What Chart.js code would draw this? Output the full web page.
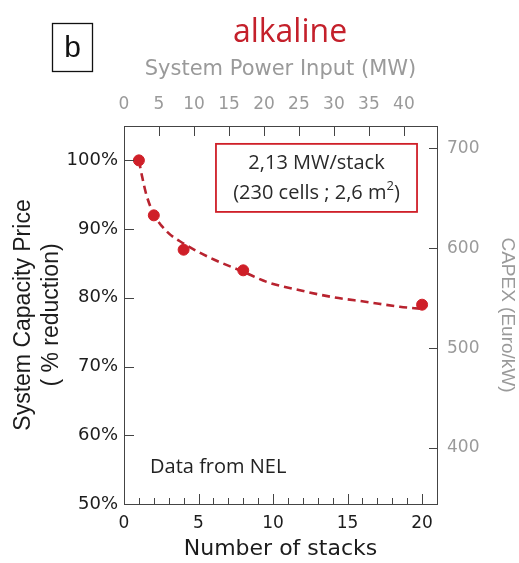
<!DOCTYPE html>
<html>
<head>
<meta charset="utf-8">
<script src="https://cdn.jsdelivr.net/npm/chart.js@4/dist/chart.umd.min.js"></script>
<style>
  html, body { margin: 0; padding: 0; background: #ffffff; }
  #wrap { width: 519px; height: 563px; }
</style>
</head>
<body>
<div id="wrap"><canvas id="chart" width="519" height="563"></canvas></div>
<script>
// Measured system prices vs. number of stacks (alkaline, NEL data)
const stacks = [1, 2, 4, 8, 20];
const priceReduction = [100, 92, 87, 84, 79];

// Dashed trend line traced through the measurements
const trendStacks = [1, 1.2, 1.5, 2, 2.9, 4, 5.8, 8, 9.6, 11.8, 14, 16.3, 18.5, 20];
const trendPrice = [100, 97.8, 95, 92.2, 89.6, 87.9, 85.8, 83.8, 82.3, 81.1, 80.1, 79.4, 78.7, 78.4];

// Axis ranges and tick labels
const stackRange = [0, 21];
const priceRange = [50, 105];
const stackTicks = [0, 5, 10, 15, 20];
const powerTicks = [0, 5, 10, 15, 20, 25, 30, 35, 40];
const priceTicks = [50, 60, 70, 80, 90, 100];
const capexTicks = [400, 500, 600, 700];
const MW_PER_STACK = 2.13;      // top axis: system power = stacks x 2.13 MW
const CAPEX_AT_FULL_PRICE = 688; // right axis: 100 % corresponds to 688 Euro/kW

const RED = '#cf1f28';
const LINE_RED = '#b8232f';
const AXIS = '#444444';
const GREY = '#9a9a9a';
const INK = '#1c1c1c';
const SANS = "'DejaVu Sans', sans-serif";
const ARIAL = "'Liberation Sans', Arial, sans-serif";
const CAL = "'Open Sans', sans-serif";

const fixTicks = values => scale => { scale.ticks = values.map(v => ({ value: v })); };

// Inward-pointing tick marks on all four sides, minor ticks along the bottom
const inwardTicks = {
  id: 'inwardTicks',
  afterDraw(chart) {
    const { ctx, chartArea: a, scales } = chart;
    ctx.save();
    ctx.strokeStyle = AXIS;
    ctx.lineWidth = 1;
    const vline = (x, y0, y1) => { const px = Math.round(x) + 0.5; ctx.beginPath(); ctx.moveTo(px, y0); ctx.lineTo(px, y1); ctx.stroke(); };
    const hline = (y, x0, x1) => { const py = Math.round(y) + 0.5; ctx.beginPath(); ctx.moveTo(x0, py); ctx.lineTo(x1, py); ctx.stroke(); };
    for (let s = 1; s <= 20; s++) {
      const major = stackTicks.includes(s);
      vline(scales.x.getPixelForValue(s), a.bottom, a.bottom - (major ? 10 : 6));
    }
    powerTicks.forEach(v => { if (v > 0) vline(scales.x2.getPixelForValue(v), a.top, a.top + 10); });
    priceTicks.forEach(v => { if (v > priceRange[0]) hline(scales.y.getPixelForValue(v), a.left, a.left + 10); });
    capexTicks.forEach(v => hline(scales.y2.getPixelForValue(v), a.right, a.right - 8));
    ctx.restore();
  }
};

// Panel letter, heading and the two text notes
const notes = {
  id: 'notes',
  afterDraw(chart) {
    const { ctx, scales } = chart;
    ctx.save();
    // panel letter
    ctx.strokeStyle = '#111';
    ctx.lineWidth = 1.3;
    ctx.strokeRect(52.5, 23.5, 40, 48);
    ctx.fillStyle = '#111';
    ctx.font = "30px " + ARIAL;
    ctx.textAlign = 'center';
    ctx.textBaseline = 'alphabetic';
    ctx.fillText('b', 72.5, 57);
    // heading
    ctx.fillStyle = '#c4202b';
    ctx.font = "32px " + CAL;
    ctx.fillText('alkaline', 290, 42);

    // stack specification box (placed in data coordinates)
    const bx0 = scales.x.getPixelForValue(6.17), bx1 = scales.x.getPixelForValue(19.66);
    const by0 = scales.y.getPixelForValue(102.4), by1 = scales.y.getPixelForValue(92.5);
    ctx.strokeStyle = RED;
    ctx.lineWidth = 1.8;
    ctx.strokeRect(bx0, by0, bx1 - bx0, by1 - by0);
    const cx = (bx0 + bx1) / 2;
    ctx.fillStyle = '#2a2a2a';
    ctx.font = "20px " + CAL;
    ctx.textBaseline = 'middle';
    ctx.textAlign = 'center';
    ctx.fillText('2,13 MW/stack', cx, by0 + 19);
    // second line with superscript
    const partA = '(230 cells ; 2,6 m', sup = '2', partB = ')';
    ctx.font = "20px " + CAL;
    const wA = ctx.measureText(partA).width, wB = ctx.measureText(partB).width;
    ctx.font = "13px " + CAL;
    const wS = ctx.measureText(sup).width;
    let x = cx - (wA + wS + wB) / 2;
    const y2 = by0 + 49;
    ctx.textAlign = 'left';
    ctx.font = "20px " + CAL;
    ctx.fillText(partA, x, y2); x += wA;
    ctx.font = "13px " + CAL;
    ctx.fillText(sup, x, y2 - 7); x += wS;
    ctx.font = "20px " + CAL;
    ctx.fillText(partB, x, y2);

    // data source
    ctx.fillStyle = '#222';
    ctx.fillText('Data from NEL', scales.x.getPixelForValue(1.75), scales.y.getPixelForValue(55.4));
    ctx.restore();
  }
};

new Chart(document.getElementById('chart'), {
  type: 'scatter',
  data: {
    datasets: [
      {
        label: 'System capacity price',
        data: stacks.map((s, i) => ({ x: s, y: priceReduction[i] })),
        backgroundColor: RED,
        borderColor: RED,
        pointRadius: 5.5,
        pointHoverRadius: 5.5,
        order: 0
      },
      {
        label: 'Trend',
        data: trendStacks.map((s, i) => ({ x: s, y: trendPrice[i] })),
        showLine: true,
        borderColor: LINE_RED,
        borderWidth: 2.6,
        borderDash: [8, 5],
        pointRadius: 0,
        cubicInterpolationMode: 'monotone',
        fill: false,
        order: 1
      }
    ]
  },
  options: {
    responsive: false,
    animation: false,
    events: [],
    layout: { padding: { top: 51, left: 0, right: 0, bottom: 0 } },
    plugins: { legend: { display: false }, tooltip: { enabled: false }, title: { display: false } },
    scales: {
      x: {
        type: 'linear', position: 'bottom', min: stackRange[0], max: stackRange[1],
        afterBuildTicks: fixTicks(stackTicks),
        afterFit: s => { s.height = 59; },
        grid: { display: false, drawTicks: false },
        border: { display: true, color: AXIS, width: 1 },
        ticks: { color: INK, font: { family: SANS, size: 17 }, padding: 9, maxRotation: 0 },
        title: { display: true, text: 'Number of stacks', color: INK, font: { family: SANS, size: 22 }, padding: { top: 0, bottom: 1 } }
      },
      x2: {
        type: 'linear', position: 'top', min: stackRange[0] * MW_PER_STACK, max: stackRange[1] * MW_PER_STACK,
        afterBuildTicks: fixTicks(powerTicks),
        afterFit: s => { s.height = 75; },
        grid: { display: false, drawTicks: false },
        border: { display: true, color: AXIS, width: 1 },
        ticks: { color: GREY, font: { family: SANS, size: 17 }, padding: 11, maxRotation: 0 },
        title: { display: true, text: 'System Power Input (MW)', color: GREY, font: { family: SANS, size: 21 }, padding: { top: 6, bottom: 0 } }
      },
      y: {
        type: 'linear', position: 'left', min: priceRange[0], max: priceRange[1],
        afterBuildTicks: fixTicks(priceTicks),
        afterFit: s => { s.width = 124; },
        grid: { display: false, drawTicks: false },
        border: { display: true, color: AXIS, width: 1 },
        ticks: { color: INK, font: { family: SANS, size: 18 }, padding: 6, callback: v => v + '%' },
        title: { display: true, text: ['System Capacity Price', '( % reduction)'], color: INK, font: { family: ARIAL, size: 23 }, padding: { top: 10, bottom: 0 } }
      },
      y2: {
        type: 'linear', position: 'right', min: priceRange[0] / 100 * CAPEX_AT_FULL_PRICE, max: priceRange[1] / 100 * CAPEX_AT_FULL_PRICE,
        afterBuildTicks: fixTicks(capexTicks),
        afterFit: s => { s.width = 82; },
        grid: { display: false, drawTicks: false },
        border: { display: true, color: AXIS, width: 1 },
        ticks: { color: GREY, font: { family: SANS, size: 17 }, padding: 10 },
        title: { display: true, text: 'CAPEX (Euro/kW)', color: GREY, font: { family: ARIAL, size: 19 }, padding: { top: 0, bottom: 0 } }
      }
    }
  },
  plugins: [inwardTicks, notes]
});
</script>
</body>
</html>
